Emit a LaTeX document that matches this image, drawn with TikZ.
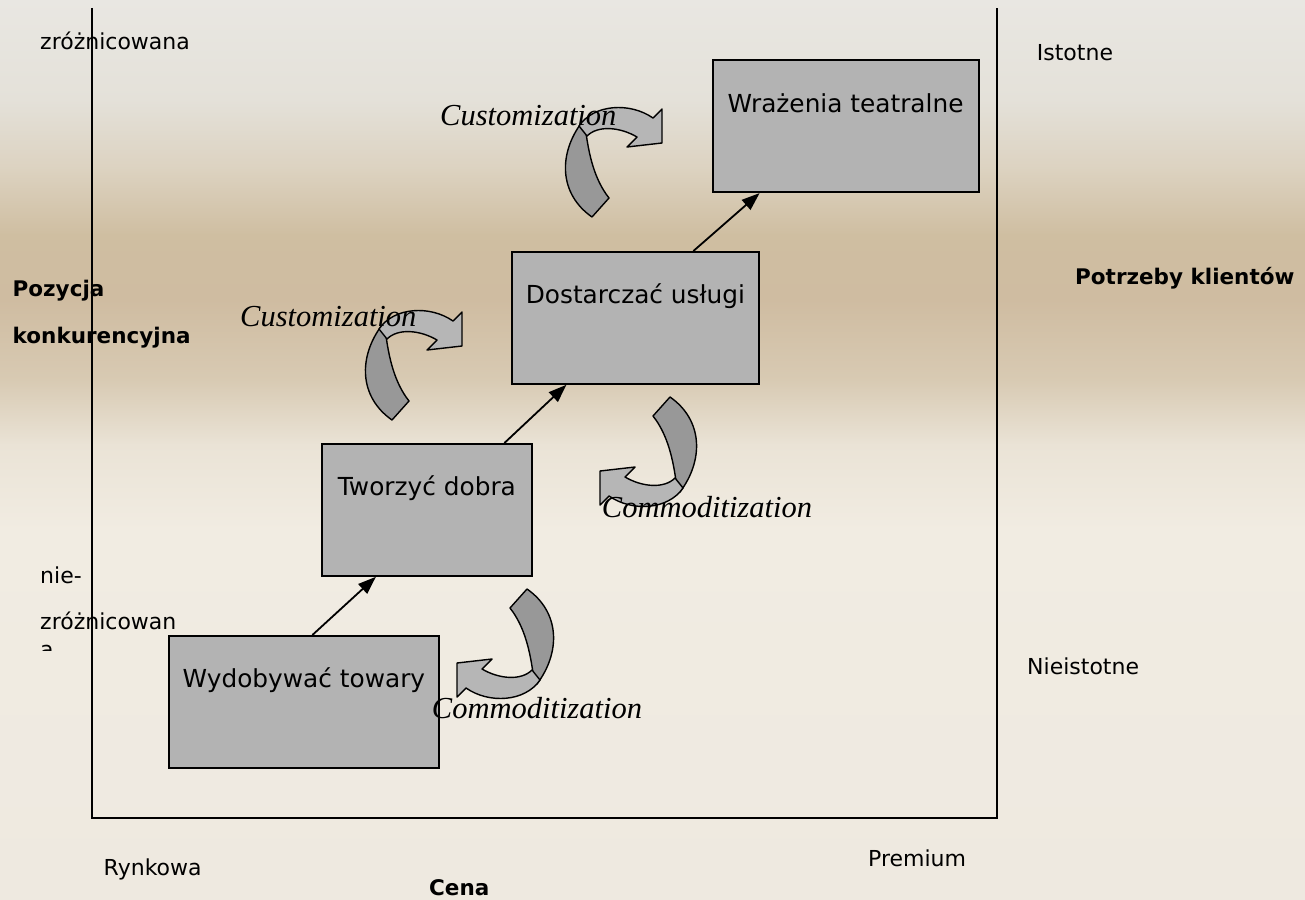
\documentclass[tikz,border=0pt]{standalone}
\usepackage{fontspec}
\setmainfont{DejaVu Sans}
\newfontfamily\flowfont{Liberation Serif}
\usetikzlibrary{arrows.meta}
\definecolor{boxgrey}{HTML}{B3B3B3}
\definecolor{bandlight}{HTML}{B6B6B6}
\definecolor{banddark}{HTML}{989898}
\definecolor{bgA}{HTML}{E9E7E2}
\definecolor{bgB}{HTML}{E4E1D9}
\definecolor{bgC}{HTML}{DCD2C0}
\definecolor{bgD}{HTML}{CFBEA1}
\definecolor{bgE}{HTML}{CFBCA1}
\definecolor{bgF}{HTML}{D8CAB3}
\definecolor{bgG}{HTML}{EAE3D6}
\definecolor{bgH}{HTML}{F1ECE2}
\definecolor{bgI}{HTML}{EEE9E0}
\tikzset{
  stage/.style  = {rectangle, draw=black, line width=1.8pt, fill=boxgrey,
                   anchor=north west, inner sep=0pt, text height=52pt,
                   text depth=80pt, minimum height=132pt,
                   font=\fontsize{24.8}{28}\selectfont},
  adv/.style    = {-{Triangle[length=18pt,width=13pt]}, line width=1.8pt},
  axisln/.style = {line width=2pt},
  lbl/.style    = {anchor=base west, inner sep=0pt,
                   font=\fontsize{22}{26}\selectfont},
  lblb/.style   = {lbl, font=\fontsize{21.5}{26}\selectfont\bfseries},
  flow/.style   = {anchor=base west, inner sep=0pt,
                   font=\fontsize{30.5}{34}\selectfont\flowfont\itshape},
  bandback/.style  = {fill=banddark, draw=black, line width=1.4pt, line join=round},
  bandfront/.style = {fill=bandlight, draw=black, line width=1.4pt, line join=round},
  bendarrow/.pic = {
    \filldraw[bandback] (-80,13) .. controls (-104,45) and (-103,85) .. (-70,108)
      -- (-53,89) .. controls (-68,70) and (-73,45) .. (-76,24) -- cycle;
    \filldraw[bandfront] (-83,17) .. controls (-68,-5) and (-32,-7) .. (-9,9)
      -- (0,0) -- (0,34) -- (-35,38) -- (-25,28)
      .. controls (-42,18) and (-64,16) .. (-75,27) -- cycle;
  },
}

\begin{document}
\begin{tikzpicture}[x=1pt,y=-1pt]
  % background
  \useasboundingbox (0,0) rectangle (1305,899);
  \foreach \ya/\yb/\ca/\cb in {0/100/bgA/bgB, 100/170/bgB/bgC, 170/235/bgC/bgD,
      235/300/bgD/bgE, 300/380/bgE/bgF, 380/445/bgF/bgG, 445/530/bgG/bgH,
      530/899/bgH/bgI}{
    \shade[top color=\ca, bottom color=\cb] (0,\ya-0.5) rectangle (1305,\yb+0.5);
  }

  % labels round the frame
  \node[lbl] (dif)   at (40,50)     {zróżnicowana};
  \node[lblb] (poz1) at (12.5,296.7) {Pozycja};
  \node[lblb] (poz2) at (12.5,343)   {konkurencyjna};
  \node[lbl] (ndif1) at (40,583)    {nie-};
  \node[lbl] (ndif2) at (40,629)    {zróżnicowan};
  \begin{scope}
    \clip (30,600) rectangle (100,650.5);
    \node[lbl] (ndif3) at (40,657) {a};
  \end{scope}
  \node[lbl] (ist)   at (1036.7,60) {Istotne};
  \node[lblb] (potr) at (1075,284)  {Potrzeby klientów};
  \node[lbl] (nist)  at (1027,674)  {Nieistotne};
  \node[lbl] (rynk)  at (103.5,875) {Rynkowa};
  \node[lbl] (prem)  at (868,866)   {Premium};
  \node[lblb] (cena) at (429,895)   {Cena};

  % frame
  \coordinate (ltop) at (92,8);
  \coordinate (lbot) at (92,817.7);
  \coordinate (rbot) at (997,817.7);
  \coordinate (rtop) at (997,8);
  \draw[axisln] (ltop) -- (lbot) -- (rbot) -- (rtop);

  % stages
  \node[stage, minimum width=270pt] (wyd)  at (168,635)    {Wydobywać towary};
  \node[stage, minimum width=210pt] (twor) at (321,443)    {Tworzyć dobra};
  \node[stage, minimum width=247pt] (dost) at (511,251)    {Dostarczać usługi};
  \node[stage, minimum width=266pt] (wraz) at (711.7,59.3) {Wrażenia teatralne};

  \draw[adv] ([xshift=8.5pt]wyd.north)  -- ([xshift=-51pt]twor.south);
  \draw[adv] ([xshift=77.5pt]twor.north) -- ([xshift=-69pt]dost.south);
  \draw[adv] ([xshift=58pt]dost.north)  -- ([xshift=-86pt]wraz.south);

  % bent arrows
  \pic at (662,109) {bendarrow};
  \pic at (462,312) {bendarrow};
  \pic[rotate=180] at (600,505) {bendarrow};
  \pic[rotate=180] at (457,697) {bendarrow};

  \node[flow] (cust1) at (440,125)   {Customization};
  \node[flow] (cust2) at (240,326.7) {Customization};
  \node[flow] (comm1) at (601.7,517) {Commoditization};
  \node[flow] (comm2) at (431.7,718) {Commoditization};
\end{tikzpicture}
\end{document}
